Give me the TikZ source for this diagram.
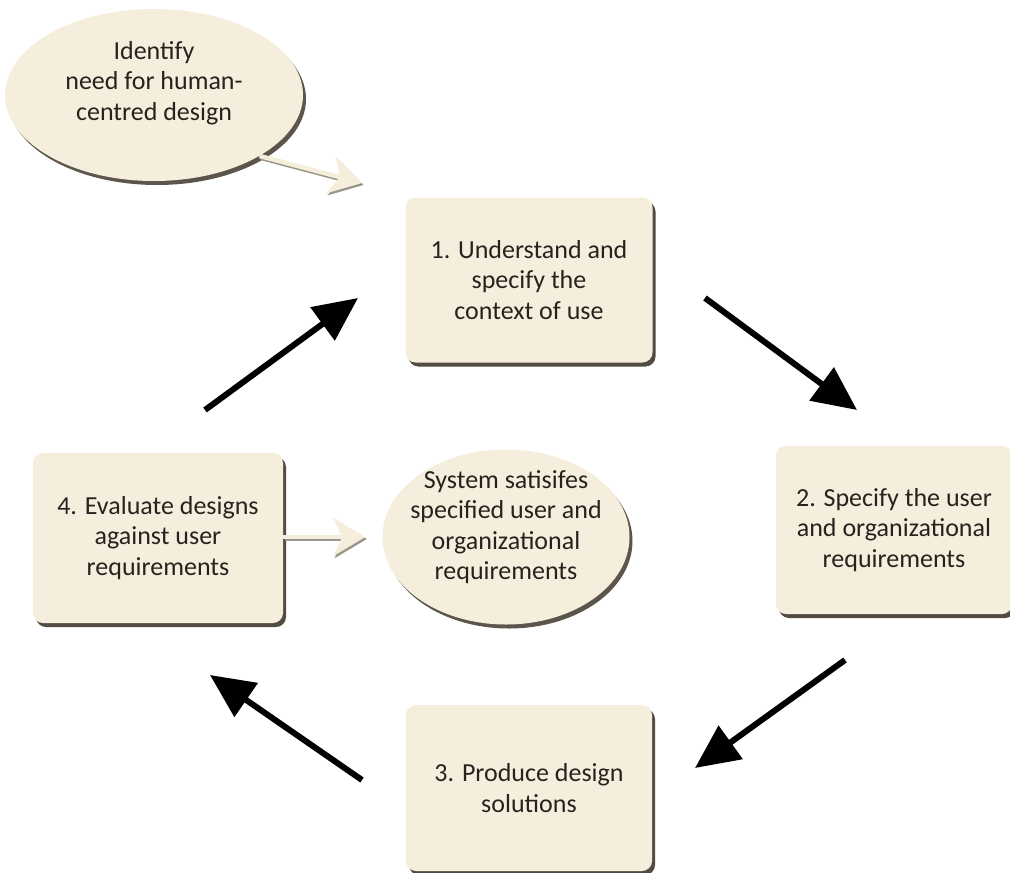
\documentclass[tikz,border=0pt]{standalone}
\usepackage{fontspec}
\setmainfont{Carlito}
\usetikzlibrary{arrows.meta,shapes.geometric,shadows,calc}
\definecolor{cream}{HTML}{F6EEDC}
\definecolor{bevel}{HTML}{3E372C}
\definecolor{softline}{HTML}{9A948A}
\definecolor{inktext}{HTML}{26231F}
\tikzset{
  labeltext/.style={align=center, text=inktext, font=\fontsize{26}{30.5}\selectfont},
  stepbox/.style={labeltext, rectangle, rounded corners=10pt, fill=cream, inner sep=0pt,
    drop shadow={shadow xshift=3pt, shadow yshift=-4pt, fill=bevel, opacity=0.9}},
  bubble/.style={ellipse, fill=cream, inner sep=0pt,
    drop shadow={shadow xshift=3pt, shadow yshift=-4pt, fill=bevel, opacity=0.85}},
  cyclearrow/.style={line width=6pt, black, -{Triangle[length=44pt,width=40pt]}},
  sidearrow/.style={line width=4.5pt, cream, -{Stealth[length=32pt,width=38pt,inset=9pt]}},
  sideshade/.style={line width=4.5pt, softline, -{Stealth[length=32pt,width=38pt,inset=9pt]}}
}
\begin{document}
\begin{tikzpicture}[x=1pt,y=-1pt]
  \useasboundingbox (0,0) rectangle (1010,873);

  % process steps
  \node[stepbox, minimum width=247pt, minimum height=165pt] (b1) at (529,280)
    {1. Understand and\\specify the\\context of use};
  \node[stepbox, minimum width=236pt, minimum height=168pt] (b2) at (894,530)
    {2. Specify the user\\and organizational\\requirements};
  \node[stepbox, minimum width=246pt, minimum height=166pt] (b3) at (529,788)
    {3. Produce design\\solutions};
  \node[stepbox, minimum width=250pt, minimum height=170pt] (b4) at (158,538)
    {4. Evaluate designs\\against user\\requirements};

  % start and end bubbles, with their texts set a little above centre
  \node[bubble, minimum width=298pt, minimum height=172pt] (e1) at (154,95) {};
  \node[labeltext] (e1text) at ($(e1.center)+(0,-12)$)
    {Identify\\need for human-\\centred design};
  \node[bubble, minimum width=247pt, minimum height=175pt] (e2) at (506,537) {};
  \node[labeltext] (e2text) at ($(e2.center)+(0,-10)$)
    {System satisifes\\specified user and\\organizational\\requirements};

  % ends of the cycle arrows
  \coordinate (c41) at (205,410);
  \coordinate (c1) at (358,298);
  \coordinate (c12) at (705,298);
  \coordinate (c2) at (857,410);
  \coordinate (c23) at (845,660);
  \coordinate (c3) at (695,768);
  \coordinate (c34) at (362,780);
  \coordinate (c4) at (210,675);
  \coordinate (t1) at (362,183);

  % the design cycle
  \draw[cyclearrow] (c41) -- (c1);
  \draw[cyclearrow] (c12) -- (c2);
  \draw[cyclearrow] (c23) -- (c3);
  \draw[cyclearrow] (c34) -- (c4);

  % entry and exit arrows
  \draw[sideshade, transform canvas={xshift=1.5pt, yshift=-2pt}] (e1.-30) -- (t1);
  \draw[sidearrow] (e1.-30) -- (t1);
  \draw[sideshade, transform canvas={xshift=1.5pt, yshift=-2pt}, shorten >=17pt]
    (b4.east |- e2.west) -- (e2.west);
  \draw[sidearrow, shorten >=17pt] (b4.east |- e2.west) -- (e2.west);
\end{tikzpicture}
\end{document}
